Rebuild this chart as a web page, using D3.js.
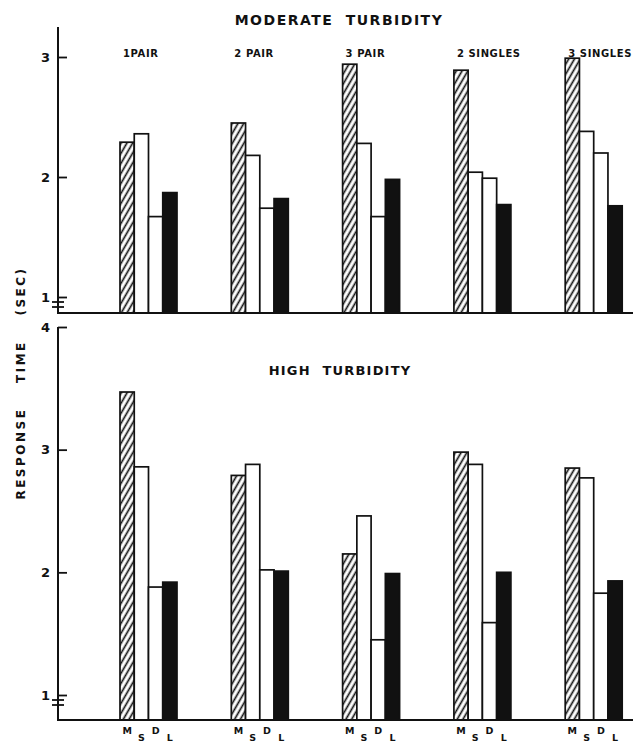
<!DOCTYPE html>
<html>
<head>
<meta charset="utf-8">
<script src="https://cdn.jsdelivr.net/npm/d3@7"></script>
<style>
  body { margin: 0; background: #fff; }
  text { font-family: "DejaVu Sans", sans-serif; font-weight: bold; fill: #111; }
</style>
</head>
<body>
<svg id="chart" width="633" height="745"></svg>
<script>
(function (window) {
    'use strict';

    // categories and bar keys
    var categories = ['1PAIR', '2 PAIR', '3 PAIR', '2 SINGLES', '3 SINGLES'];
    var seriesKeys = ['M', 'S', 'D', 'L'];

    // moderate turbidity, response time (sec)
    var moderateM = [2.29, 2.45, 2.94, 2.89, 2.99];
    var moderateS = [2.36, 2.18, 2.28, 2.04, 2.38];
    var moderateD = [1.67, 1.74, 1.67, 1.99, 2.20];
    var moderateL = [1.87, 1.82, 1.98, 1.77, 1.76];

    // high turbidity
    var highM = [3.47, 2.79, 2.15, 2.98, 2.85];
    var highS = [2.86, 2.88, 2.46, 2.88, 2.77];
    var highD = [1.88, 2.02, 1.45, 1.59, 1.83];
    var highL = [1.92, 2.01, 1.99, 2.00, 1.93];

    var moderateTicks = [1, 2, 3];
    var highTicks = [1, 2, 3, 4];

    var svg = d3.select('#chart');
    var ink = '#111';

    // hatch for the M bars
    svg.append('defs').append('pattern')
        .attr('id', 'hatch')
        .attr('patternUnits', 'userSpaceOnUse')
        .attr('width', 5)
        .attr('height', 10)
        .attr('patternTransform', 'rotate(30)')
        .append('line')
        .attr('x1', 2.5).attr('y1', -1)
        .attr('x2', 2.5).attr('y2', 11)
        .attr('stroke', ink)
        .attr('stroke-width', 1.7);

    var x = d3.scaleBand().domain(categories).range([120, 676.5]);
    var xInner = d3.scaleBand().domain(seriesKeys).range([0, 57]);

    var fills = { M: 'url(#hatch)', S: '#fff', D: '#fff', L: ink };

    function rows(m, s, d, l) {
        return categories.map(function (c, i) {
            return { cat: c, values: [
                { key: 'M', v: m[i] }, { key: 'S', v: s[i] },
                { key: 'D', v: d[i] }, { key: 'L', v: l[i] }
            ] };
        });
    }

    var panels = [
        { data: rows(moderateM, moderateS, moderateD, moderateL), ticks: moderateTicks,
          domain: [1, 3], range: [297, 57], base: 313, top: 27 },
        { data: rows(highM, highS, highD, highL), ticks: highTicks,
          domain: [1, 4], range: [695, 327], base: 720, top: 327 }
    ];

    panels.forEach(function (p) {
        var y = d3.scaleLinear().domain(p.domain).range(p.range);
        var g = svg.append('g');

        // bars
        var groups = g.selectAll('g.grp')
            .data(p.data)
            .enter()
            .append('g')
            .attr('class', 'grp')
            .attr('transform', function (d) { return 'translate(' + x(d.cat) + ',0)'; });

        groups.selectAll('rect')
            .data(function (d) { return d.values; })
            .enter()
            .append('rect')
            .attr('x', function (d) { return xInner(d.key); })
            .attr('width', xInner.bandwidth())
            .attr('y', function (d) { return y(d.v); })
            .attr('height', function (d) { return p.base - y(d.v); })
            .attr('fill', function (d) { return fills[d.key]; })
            .attr('stroke', ink)
            .attr('stroke-width', 1.7);

        // axis with ticks pointing inward
        var axis = g.append('g')
            .attr('transform', 'translate(58,0)')
            .call(d3.axisLeft(y).tickValues(p.ticks).tickFormat(d3.format('d'))
                .tickSizeInner(-9).tickSizeOuter(0).tickPadding(8));
        axis.select('.domain').remove();
        axis.selectAll('.tick line').attr('stroke', ink).attr('stroke-width', 1.8);
        axis.selectAll('.tick text')
            .attr('font-size', 13)
            .attr('font-family', '"DejaVu Sans", sans-serif')
            .attr('font-weight', 'bold')
            .attr('fill', ink);

        // vertical axis line and baseline
        g.append('path')
            .attr('d', 'M58,' + p.top + 'V' + p.base + 'H633')
            .attr('fill', 'none')
            .attr('stroke', ink)
            .attr('stroke-width', 2);

        // break marks just under the lowest tick
        var b = y(1);
        g.selectAll('line.brk')
            .data([b + 5, b + 10])
            .enter()
            .append('line')
            .attr('class', 'brk')
            .attr('x1', 52).attr('x2', 64)
            .attr('y1', function (d) { return d; })
            .attr('y2', function (d) { return d; })
            .attr('stroke', ink)
            .attr('stroke-width', 1.8);
    });

    // titles
    svg.append('text')
        .attr('x', 339).attr('y', 25)
        .attr('text-anchor', 'middle')
        .attr('font-size', 14)
        .attr('letter-spacing', 1.5)
        .attr('word-spacing', 6)
        .text('MODERATE TURBIDITY');

    svg.append('text')
        .attr('x', 340).attr('y', 375)
        .attr('text-anchor', 'middle')
        .attr('font-size', 13)
        .attr('letter-spacing', 1.2)
        .attr('word-spacing', 6)
        .text('HIGH TURBIDITY');

    // condition labels
    svg.selectAll('text.cat')
        .data(categories)
        .enter()
        .append('text')
        .attr('class', 'cat')
        .attr('x', function (d) { return x(d) + 3; })
        .attr('y', 57)
        .attr('font-size', 10)
        .attr('letter-spacing', 0.6)
        .text(function (d) { return d; });

    // bar letters under the bottom panel
    var letters = [];
    categories.forEach(function (c) {
        seriesKeys.forEach(function (k) { letters.push({ cat: c, key: k }); });
    });
    svg.selectAll('text.key')
        .data(letters)
        .enter()
        .append('text')
        .attr('class', 'key')
        .attr('x', function (d) { return x(d.cat) + xInner(d.key) + xInner.bandwidth() / 2; })
        .attr('y', function (d) { return (d.key === 'S' || d.key === 'L') ? 741 : 734; })
        .attr('text-anchor', 'middle')
        .attr('font-size', 9.5)
        .text(function (d) { return d.key; });

    // y axis title
    svg.append('text')
        .attr('transform', 'translate(25,383) rotate(-90)')
        .attr('text-anchor', 'middle')
        .attr('font-size', 12)
        .attr('letter-spacing', 2.5)
        .attr('word-spacing', 18)
        .text('RESPONSE TIME (SEC)');

})(window);
</script>
</body>
</html>
